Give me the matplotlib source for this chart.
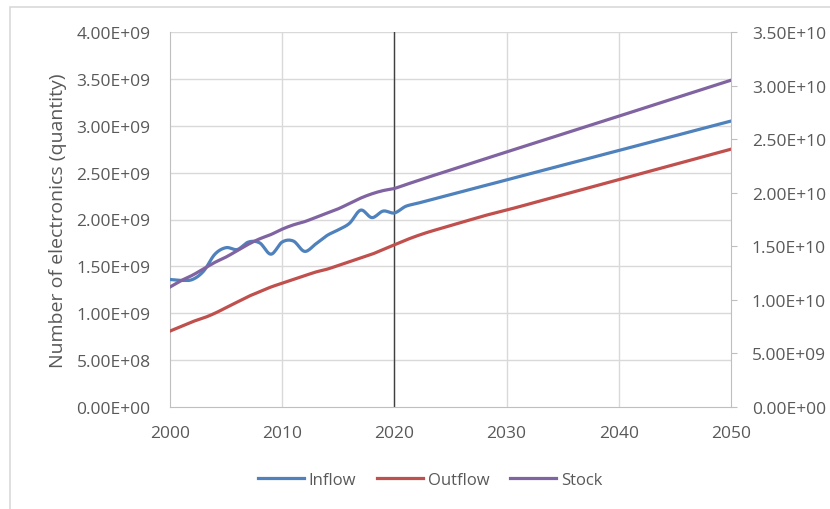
#importing required libraries
import numpy as np
import matplotlib
matplotlib.use('Agg')
import matplotlib.pyplot as plt
from matplotlib.patches import Rectangle
from matplotlib.lines import Line2D

plt.rcParams['font.family'] = ['Open Sans', 'DejaVu Sans']

#yearly series, 2000-2050
years = list(range(2000, 2051))

#inflow and outflow on the left axis (units of 1e9)
inflow = [1.36, 1.35, 1.36, 1.45, 1.63, 1.70, 1.68, 1.76, 1.75, 1.63,
          1.76, 1.77, 1.66, 1.74, 1.83, 1.89, 1.96, 2.10, 2.02, 2.09,
          2.07, 2.140, 2.171, 2.203, 2.234, 2.266, 2.297, 2.328, 2.360, 2.391,
          2.422, 2.454, 2.485, 2.517, 2.548, 2.579, 2.611, 2.642, 2.673, 2.705,
          2.736, 2.768, 2.799, 2.830, 2.862, 2.893, 2.924, 2.956, 2.987, 3.019,
          3.050]
outflow = [0.81, 0.86, 0.91, 0.95, 1.00, 1.06, 1.12, 1.18, 1.23, 1.28,
           1.32, 1.36, 1.40, 1.44, 1.47, 1.51, 1.55, 1.59, 1.63, 1.68,
           1.730, 1.780, 1.825, 1.865, 1.900, 1.935, 1.970, 2.005, 2.040, 2.070,
           2.100, 2.133, 2.165, 2.198, 2.230, 2.263, 2.295, 2.328, 2.360, 2.393,
           2.425, 2.458, 2.490, 2.523, 2.555, 2.588, 2.620, 2.653, 2.685, 2.718,
           2.750]
#stock on the right axis (units of 1e10)
stock = [1.12, 1.18, 1.23, 1.29, 1.35, 1.40, 1.46, 1.52, 1.57, 1.61,
         1.66, 1.70, 1.73, 1.77, 1.81, 1.85, 1.90, 1.95, 1.99, 2.02,
         2.040, 2.075, 2.110, 2.145, 2.178, 2.212, 2.246, 2.280, 2.313, 2.347,
         2.380, 2.414, 2.447, 2.481, 2.514, 2.547, 2.581, 2.614, 2.648, 2.681,
         2.715, 2.748, 2.782, 2.815, 2.849, 2.882, 2.916, 2.949, 2.983, 3.016,
         3.050]

left_ticks = [0, 0.5e9, 1.0e9, 1.5e9, 2.0e9, 2.5e9, 3.0e9, 3.5e9, 4.0e9]
right_ticks = [0, 5e9, 1.0e10, 1.5e10, 2.0e10, 2.5e10, 3.0e10, 3.5e10]
x_ticks = [2000, 2010, 2020, 2030, 2040, 2050]

grey_text = '#595959'
grid_col = '#d9d9d9'


#smoothed line through the yearly points (catmull-rom, like a spreadsheet "smooth line")
def smooth(x, y, n=12):
    x = np.asarray(x, float)
    y = np.asarray(y, float)
    px = np.concatenate([[2 * x[0] - x[1]], x, [2 * x[-1] - x[-2]]])
    py = np.concatenate([[2 * y[0] - y[1]], y, [2 * y[-1] - y[-2]]])
    xs, ys = [], []
    t = np.linspace(0, 1, n, endpoint=False)
    for i in range(1, len(px) - 2):
        for p, out in ((px, xs), (py, ys)):
            p0, p1, p2, p3 = p[i - 1], p[i], p[i + 1], p[i + 2]
            out.append(0.5 * ((2 * p1) + (-p0 + p2) * t
                              + (2 * p0 - 5 * p1 + 4 * p2 - p3) * t ** 2
                              + (-p0 + 3 * p1 - 3 * p2 + p3) * t ** 3))
    xs.append([x[-1]])
    ys.append([y[-1]])
    return np.concatenate(xs), np.concatenate(ys)


fig = plt.figure(figsize=(8.3, 5.1), dpi=100)

#thin frame around the chart area
fig.patches.append(Rectangle((10 / 830, -0.05), 1.0, 1 - 8 / 510 + 0.05,
                             transform=fig.transFigure, fill=False,
                             edgecolor='#d9d9d9', lw=1.2))

ax = fig.add_axes([170 / 830, 1 - 408 / 510, (731 - 170) / 830, (408 - 33) / 510])
ax2 = ax.twinx()

#grid lines
for v in left_ticks[1:]:
    ax.axhline(v, color=grid_col, lw=1, zorder=0)
for v in x_ticks[1:-1]:
    ax.axvline(v, color=grid_col, lw=1, zorder=0)
ax.axvline(2020, color='#404040', lw=1, zorder=1)

sx, sy = smooth(years, np.array(inflow) * 1e9)
ax.plot(sx, sy, color='#4f81bd', lw=2.3, label='Inflow', zorder=3)
sx, sy = smooth(years, np.array(outflow) * 1e9)
ax.plot(sx, sy, color='#c0504d', lw=2.3, label='Outflow', zorder=3)
sx, sy = smooth(years, np.array(stock) * 1e10)
ax2.plot(sx, sy, color='#8064a2', lw=2.3, label='Stock', zorder=3)

ax.set_xlim(2000, 2050)
ax.set_ylim(0, 4.0e9)
ax2.set_ylim(0, 3.5e10)
ax.set_xticks(x_ticks)
ax.set_yticks(left_ticks)
ax2.set_yticks(right_ticks)
ax.set_yticklabels(['%.2E' % v for v in left_ticks])
ax2.set_yticklabels(['%.2E' % v for v in right_ticks])

for a in (ax, ax2):
    for s in a.spines.values():
        s.set_visible(False)
ax.spines['left'].set_visible(True)
ax.spines['bottom'].set_visible(True)
ax2.spines['right'].set_visible(True)
for s in (ax.spines['left'], ax.spines['bottom'], ax2.spines['right']):
    s.set_color('#bfbfbf')

ax.tick_params(axis='y', length=0, labelsize=12.5, labelcolor=grey_text, pad=14)
ax.tick_params(axis='x', length=0, labelsize=12.5, labelcolor=grey_text, pad=13)
ax2.tick_params(axis='y', length=4, color='#bfbfbf', labelsize=12.5,
                labelcolor=grey_text, pad=11)

ax.set_ylabel('Number of electronics (quantity)', fontsize=14, color=grey_text, labelpad=7)

#legend under the chart
handles = [Line2D([], [], color='#4f81bd', lw=2.3),
           Line2D([], [], color='#c0504d', lw=2.3),
           Line2D([], [], color='#8064a2', lw=2.3)]
fig.legend(handles, ['Inflow', 'Outflow', 'Stock'], loc='center',
           bbox_to_anchor=(430 / 830, 1 - 481 / 510), ncol=3, frameon=False,
           fontsize=12, labelcolor=grey_text, handlelength=2.75,
           handletextpad=0.3, columnspacing=1.25)

#saving the figure
fig.savefig('out.png', dpi=100)
